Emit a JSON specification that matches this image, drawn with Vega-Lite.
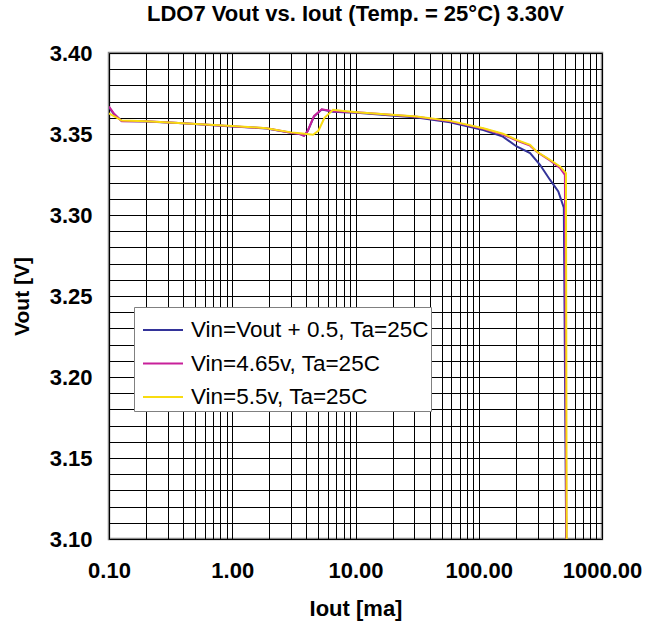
{
  "$schema": "https://vega.github.io/schema/vega-lite/v6.json",
  "width": 493,
  "height": 486,
  "autosize": {"type": "none"},
  "padding": {"left": 109, "top": 53, "right": 56, "bottom": 82},
  "background": "white",
  "title": {
    "text": "LDO7 Vout vs. Iout (Temp. = 25°C) 3.30V",
    "font": "Liberation Sans",
    "fontSize": 22,
    "fontWeight": "bold",
    "color": "black",
    "anchor": "middle",
    "baseline": "alphabetic",
    "offset": -1
  },
  "config": {
    "view": {"stroke": "#8a8a8a", "strokeWidth": 2.5},
    "axis": {
      "labelFont": "Liberation Sans",
      "labelFontSize": 22,
      "labelFontWeight": "bold",
      "labelColor": "black",
      "titleFont": "Liberation Sans",
      "titleFontWeight": "bold",
      "titleColor": "black",
      "domain": false,
      "ticks": false,
      "tickSize": 0,
      "grid": true,
      "gridColor": "#000000",
      "gridWidth": 1,
      "gridOpacity": 1,
      "labelOverlap": false,
      "labelFlush": false
    }
  },
  "data": {
    "values": [
      {"series": "Vin=Vout + 0.5, Ta=25C", "iout": 0.1, "vout": 3.3665},
      {"series": "Vin=Vout + 0.5, Ta=25C", "iout": 0.11, "vout": 3.3622},
      {"series": "Vin=Vout + 0.5, Ta=25C", "iout": 0.127, "vout": 3.358},
      {"series": "Vin=Vout + 0.5, Ta=25C", "iout": 0.2, "vout": 3.3577},
      {"series": "Vin=Vout + 0.5, Ta=25C", "iout": 0.4, "vout": 3.3566},
      {"series": "Vin=Vout + 0.5, Ta=25C", "iout": 1.0, "vout": 3.3547},
      {"series": "Vin=Vout + 0.5, Ta=25C", "iout": 1.9, "vout": 3.3534},
      {"series": "Vin=Vout + 0.5, Ta=25C", "iout": 3.0, "vout": 3.3507},
      {"series": "Vin=Vout + 0.5, Ta=25C", "iout": 3.55, "vout": 3.3499},
      {"series": "Vin=Vout + 0.5, Ta=25C", "iout": 3.82, "vout": 3.3489},
      {"series": "Vin=Vout + 0.5, Ta=25C", "iout": 4.1, "vout": 3.3519},
      {"series": "Vin=Vout + 0.5, Ta=25C", "iout": 4.6, "vout": 3.3608},
      {"series": "Vin=Vout + 0.5, Ta=25C", "iout": 5.32, "vout": 3.3651},
      {"series": "Vin=Vout + 0.5, Ta=25C", "iout": 6.57, "vout": 3.3638},
      {"series": "Vin=Vout + 0.5, Ta=25C", "iout": 10.9, "vout": 3.363},
      {"series": "Vin=Vout + 0.5, Ta=25C", "iout": 31.4, "vout": 3.3602},
      {"series": "Vin=Vout + 0.5, Ta=25C", "iout": 58.5, "vout": 3.3573},
      {"series": "Vin=Vout + 0.5, Ta=25C", "iout": 109, "vout": 3.3524},
      {"series": "Vin=Vout + 0.5, Ta=25C", "iout": 157, "vout": 3.3484},
      {"series": "Vin=Vout + 0.5, Ta=25C", "iout": 203, "vout": 3.3423},
      {"series": "Vin=Vout + 0.5, Ta=25C", "iout": 261, "vout": 3.3382},
      {"series": "Vin=Vout + 0.5, Ta=25C", "iout": 314, "vout": 3.331},
      {"series": "Vin=Vout + 0.5, Ta=25C", "iout": 378, "vout": 3.3218},
      {"series": "Vin=Vout + 0.5, Ta=25C", "iout": 442, "vout": 3.3146},
      {"series": "Vin=Vout + 0.5, Ta=25C", "iout": 490, "vout": 3.3045},
      {"series": "Vin=Vout + 0.5, Ta=25C", "iout": 512, "vout": 3.1},

      {"series": "Vin=4.65v, Ta=25C", "iout": 0.1, "vout": 3.367},
      {"series": "Vin=4.65v, Ta=25C", "iout": 0.11, "vout": 3.3625},
      {"series": "Vin=4.65v, Ta=25C", "iout": 0.127, "vout": 3.3578},
      {"series": "Vin=4.65v, Ta=25C", "iout": 0.2, "vout": 3.3578},
      {"series": "Vin=4.65v, Ta=25C", "iout": 0.4, "vout": 3.3566},
      {"series": "Vin=4.65v, Ta=25C", "iout": 1.0, "vout": 3.3548},
      {"series": "Vin=4.65v, Ta=25C", "iout": 1.9, "vout": 3.3535},
      {"series": "Vin=4.65v, Ta=25C", "iout": 3.0, "vout": 3.3508},
      {"series": "Vin=4.65v, Ta=25C", "iout": 3.55, "vout": 3.35},
      {"series": "Vin=4.65v, Ta=25C", "iout": 3.82, "vout": 3.3489},
      {"series": "Vin=4.65v, Ta=25C", "iout": 4.1, "vout": 3.352},
      {"series": "Vin=4.65v, Ta=25C", "iout": 4.6, "vout": 3.361},
      {"series": "Vin=4.65v, Ta=25C", "iout": 5.32, "vout": 3.3653},
      {"series": "Vin=4.65v, Ta=25C", "iout": 6.57, "vout": 3.364},
      {"series": "Vin=4.65v, Ta=25C", "iout": 10.9, "vout": 3.3633},
      {"series": "Vin=4.65v, Ta=25C", "iout": 31.4, "vout": 3.3606},
      {"series": "Vin=4.65v, Ta=25C", "iout": 58.5, "vout": 3.3578},
      {"series": "Vin=4.65v, Ta=25C", "iout": 109, "vout": 3.3532},
      {"series": "Vin=4.65v, Ta=25C", "iout": 157, "vout": 3.3497},
      {"series": "Vin=4.65v, Ta=25C", "iout": 203, "vout": 3.346},
      {"series": "Vin=4.65v, Ta=25C", "iout": 261, "vout": 3.3428},
      {"series": "Vin=4.65v, Ta=25C", "iout": 295, "vout": 3.339},
      {"series": "Vin=4.65v, Ta=25C", "iout": 378, "vout": 3.3337},
      {"series": "Vin=4.65v, Ta=25C", "iout": 456, "vout": 3.329},
      {"series": "Vin=4.65v, Ta=25C", "iout": 500, "vout": 3.3248},
      {"series": "Vin=4.65v, Ta=25C", "iout": 514, "vout": 3.1},

      {"series": "Vin=5.5v, Ta=25C", "iout": 0.1, "vout": 3.3628},
      {"series": "Vin=5.5v, Ta=25C", "iout": 0.127, "vout": 3.3583},
      {"series": "Vin=5.5v, Ta=25C", "iout": 0.2, "vout": 3.3578},
      {"series": "Vin=5.5v, Ta=25C", "iout": 0.4, "vout": 3.3567},
      {"series": "Vin=5.5v, Ta=25C", "iout": 1.0, "vout": 3.355},
      {"series": "Vin=5.5v, Ta=25C", "iout": 1.9, "vout": 3.3536},
      {"series": "Vin=5.5v, Ta=25C", "iout": 3.0, "vout": 3.351},
      {"series": "Vin=5.5v, Ta=25C", "iout": 3.55, "vout": 3.3505},
      {"series": "Vin=5.5v, Ta=25C", "iout": 4.52, "vout": 3.3495},
      {"series": "Vin=5.5v, Ta=25C", "iout": 5.0, "vout": 3.352},
      {"series": "Vin=5.5v, Ta=25C", "iout": 5.6, "vout": 3.36},
      {"series": "Vin=5.5v, Ta=25C", "iout": 6.57, "vout": 3.3649},
      {"series": "Vin=5.5v, Ta=25C", "iout": 8.0, "vout": 3.3642},
      {"series": "Vin=5.5v, Ta=25C", "iout": 10.9, "vout": 3.3632},
      {"series": "Vin=5.5v, Ta=25C", "iout": 31.4, "vout": 3.3608},
      {"series": "Vin=5.5v, Ta=25C", "iout": 58.5, "vout": 3.3581},
      {"series": "Vin=5.5v, Ta=25C", "iout": 109, "vout": 3.3536},
      {"series": "Vin=5.5v, Ta=25C", "iout": 157, "vout": 3.3502},
      {"series": "Vin=5.5v, Ta=25C", "iout": 203, "vout": 3.3464},
      {"series": "Vin=5.5v, Ta=25C", "iout": 261, "vout": 3.3433},
      {"series": "Vin=5.5v, Ta=25C", "iout": 295, "vout": 3.3392},
      {"series": "Vin=5.5v, Ta=25C", "iout": 378, "vout": 3.3341},
      {"series": "Vin=5.5v, Ta=25C", "iout": 456, "vout": 3.33},
      {"series": "Vin=5.5v, Ta=25C", "iout": 510, "vout": 3.3259},
      {"series": "Vin=5.5v, Ta=25C", "iout": 517, "vout": 3.1}
    ]
  },
  "mark": {"type": "line", "strokeWidth": 2, "clip": true},
  "encoding": {
    "x": {
      "field": "iout",
      "type": "quantitative",
      "scale": {"type": "log", "domain": [0.1, 1000], "nice": false},
      "axis": {
        "title": "Iout [ma]",
        "titleFontSize": 22,
        "titleBaseline": "alphabetic",
        "titleY": 76,
        "labelBaseline": "alphabetic",
        "labelPadding": 38,
        "values": [0.1, 0.2, 0.3, 0.4, 0.5, 0.6, 0.7, 0.8, 0.9,
                   1, 2, 3, 4, 5, 6, 7, 8, 9,
                   10, 20, 30, 40, 50, 60, 70, 80, 90,
                   100, 200, 300, 400, 500, 600, 700, 800, 900, 1000],
        "labelExpr": "indexof([0.1, 1, 10, 100, 1000], datum.value) >= 0 ? format(datum.value, '.2f') : ''"
      }
    },
    "y": {
      "field": "vout",
      "type": "quantitative",
      "scale": {"domain": [3.1, 3.4], "nice": false, "zero": false},
      "axis": {
        "title": "Vout [V]",
        "titleFontSize": 21,
        "titleBaseline": "alphabetic",
        "titleX": -81,
        "titleY": 243,
        "labelPadding": 17,
        "values": [3.1, 3.11, 3.12, 3.13, 3.14, 3.15, 3.16, 3.17, 3.18, 3.19,
                   3.2, 3.21, 3.22, 3.23, 3.24, 3.25, 3.26, 3.27, 3.28, 3.29,
                   3.3, 3.31, 3.32, 3.33, 3.34, 3.35, 3.36, 3.37, 3.38, 3.39, 3.4],
        "labelExpr": "abs(datum.value * 20 - round(datum.value * 20)) < 1e-6 ? format(datum.value, '.2f') : ''"
      }
    },
    "color": {
      "field": "series",
      "type": "nominal",
      "scale": {
        "domain": ["Vin=Vout + 0.5, Ta=25C", "Vin=4.65v, Ta=25C", "Vin=5.5v, Ta=25C"],
        "range": ["#333399", "#C8209A", "#F8DC10"]
      },
      "legend": {
        "title": null,
        "orient": "none",
        "legendX": 25,
        "legendY": 254,
        "direction": "vertical",
        "symbolType": "stroke",
        "symbolSize": 1600,
        "symbolStrokeWidth": 2,
        "symbolOffset": 6,
        "labelFont": "Liberation Sans",
        "labelFontSize": 22.5,
        "labelColor": "black",
        "labelOffset": 7,
        "labelLimit": 400,
        "rowPadding": 0.5,
        "padding": 2,
        "fillColor": "white",
        "strokeColor": "#808080"
      }
    }
  }
}
